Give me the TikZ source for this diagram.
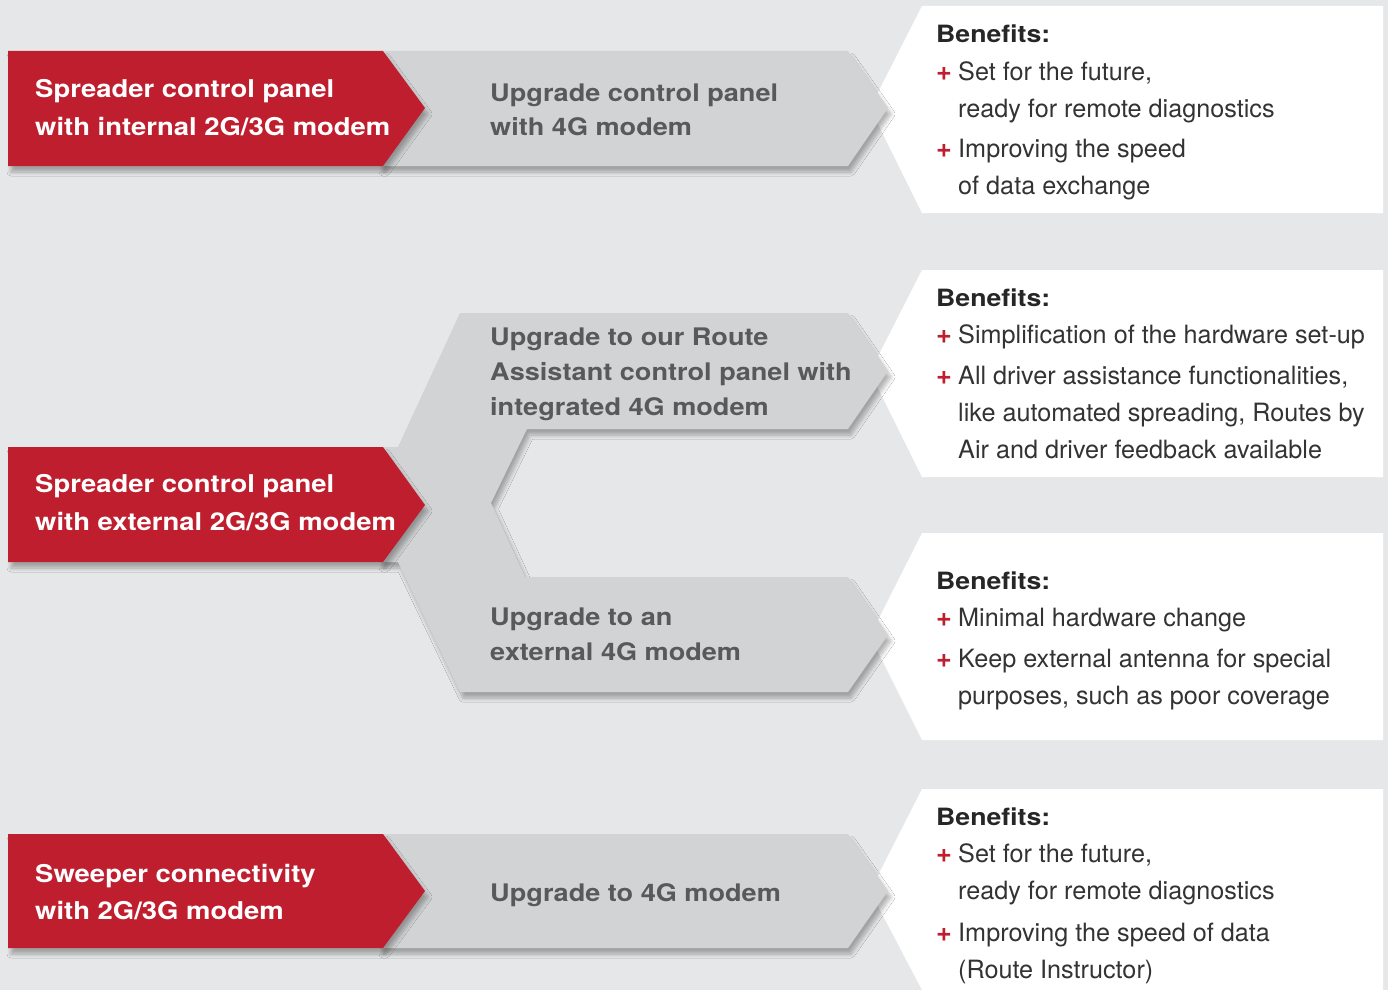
\documentclass[tikz,border=0pt]{standalone}
\usepackage{fontspec}
\setmainfont{TeX Gyre Heros}
\newfontfamily\breit[FakeStretch=1.12]{TeX Gyre Heros}
\usepackage{xcolor}
\usetikzlibrary{shadows.blur}
\definecolor{kred}{HTML}{BE1E2D}
\definecolor{kgrau}{HTML}{D1D3D4}
\definecolor{khell}{HTML}{E6E7E8}
\definecolor{kschrift}{HTML}{58595B}
\definecolor{ktext}{HTML}{333333}
\newcommand{\plusz}{\makebox[22pt][l]{\textcolor{kred}{\fontsize{27}{30}\selectfont\textbf{+}}}}

\begin{document}
\begin{tikzpicture}[x=1pt,y=-1pt,
  schatten/.style={blur shadow={shadow xshift=3pt,shadow yshift=-6pt,shadow opacity=30,shadow blur radius=4pt,shadow blur steps=8}},
  pfeilrot/.style={fill=kred,schatten},
  pfeilgrau/.style={fill=kgrau,schatten},
  rtext/.style={anchor=base west,inner sep=0pt,text=white,font=\breit\fontsize{24.5}{30}\selectfont\bfseries},
  gtext/.style={anchor=base west,inner sep=0pt,text=kschrift,font=\breit\fontsize{24.2}{30}\selectfont\bfseries},
  titel/.style={anchor=base west,inner sep=0pt,text=black!85,font=\breit\fontsize{23.8}{30}\selectfont\bfseries},
  punkt/.style={anchor=base west,inner sep=0pt,text=ktext,font=\fontsize{25.2}{30}\selectfont}]
\useasboundingbox (0,0) rectangle (1388,990);
\fill[khell] (0,0) rectangle (1388,990);
\fill[white] (922,6) -- (1383,6) -- (1383,213) -- (922,213) -- (870,108) -- cycle;
\fill[white] (922,270) -- (1383,270) -- (1383,477) -- (922,477) -- (870,372) -- cycle;
\fill[white] (922,533) -- (1383,533) -- (1383,740) -- (922,740) -- (870,636) -- cycle;
\fill[white] (922,789) -- (1383,789) -- (1383,990) -- (922,990) -- (870,891) -- cycle;
\fill[pfeilgrau] (380,51) -- (848,51) -- (888,108) -- (848,166) -- (380,166) -- cycle;
\fill[pfeilgrau] (380,447) -- (398,447) -- (460,313) -- (848,313) -- (888,371) -- (848,429) -- (527,429) -- (491,503) -- (525,577) -- (848,577) -- (888,635) -- (848,692) -- (460,692) -- (398,562) -- (380,562) -- cycle;
\fill[pfeilgrau] (380,834) -- (848,834) -- (888,891) -- (848,948) -- (380,948) -- cycle;
\fill[pfeilrot] (8,51) -- (383,51) -- (425,108) -- (383,166) -- (8,166) -- cycle;
\fill[pfeilrot] (8,447) -- (383,447) -- (425,505) -- (383,562) -- (8,562) -- cycle;
\fill[pfeilrot] (8,834) -- (383,834) -- (425,891) -- (383,948) -- (8,948) -- cycle;
\node [rtext] (r1a) at (35,97) {Spreader control panel};
\node [rtext] (r1b) at (35,135) {with internal 2G/3G modem};
\node [rtext] (r2a) at (35,492) {Spreader control panel};
\node [rtext] (r2b) at (35,530) {with external 2G/3G modem};
\node [rtext] (r3a) at (35,882) {Sweeper connectivity};
\node [rtext] (r3b) at (35,919) {with 2G/3G modem};
\node [gtext] (g1a) at (490,101) {Upgrade control panel};
\node [gtext] (g1b) at (490,135) {with 4G modem};
\node [gtext] (g2a) at (490,345) {Upgrade to our Route};
\node [gtext] (g2b) at (490,380) {Assistant control panel with};
\node [gtext] (g2c) at (490,415) {integrated 4G modem};
\node [gtext] (g3a) at (490,625) {Upgrade to an};
\node [gtext] (g3b) at (490,660) {external 4G modem};
\node [gtext] (g4a) at (490,901) {Upgrade to 4G modem};
\node [titel] (b1) at (936,42) {Benefits:};
\node [punkt] (b1a) at (936,80) {\plusz Set for the future,};
\node [punkt] (b1b) at (958,117) {ready for remote diagnostics};
\node [punkt] (b1c) at (936,157) {\plusz Improving the speed};
\node [punkt] (b1d) at (958,194) {of data exchange};
\node [titel] (b2) at (936,306) {Benefits:};
\node [punkt] (b2a) at (936,343) {\plusz Simplification of the hardware set-up};
\node [punkt] (b2b) at (936,384) {\plusz All driver assistance functionalities,};
\node [punkt] (b2c) at (958,421) {like automated spreading, Routes by};
\node [punkt] (b2d) at (958,458) {Air and driver feedback available};
\node [titel] (b3) at (936,589) {Benefits:};
\node [punkt] (b3a) at (936,626) {\plusz Minimal hardware change};
\node [punkt] (b3b) at (936,667) {\plusz Keep external antenna for special};
\node [punkt] (b3c) at (958,704) {purposes, such as poor coverage};
\node [titel] (b4) at (936,825) {Benefits:};
\node [punkt] (b4a) at (936,862) {\plusz Set for the future,};
\node [punkt] (b4b) at (958,899) {ready for remote diagnostics};
\node [punkt] (b4c) at (936,941) {\plusz Improving the speed of data};
\node [punkt] (b4d) at (958,978) {(Route Instructor)};
\end{tikzpicture}
\end{document}
